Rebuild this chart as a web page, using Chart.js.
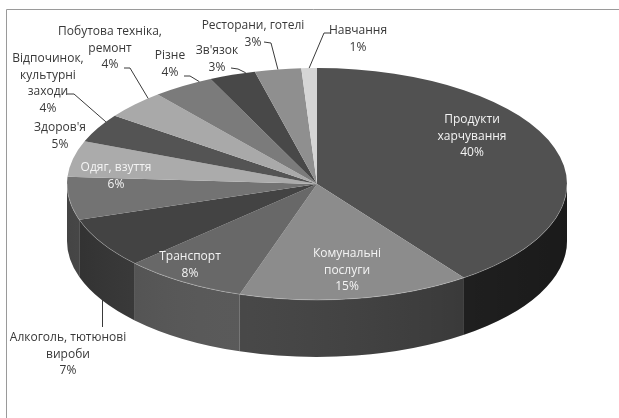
<!DOCTYPE html>
<html>
<head>
<meta charset="utf-8">
<script src="https://cdn.jsdelivr.net/npm/chart.js@4"></script>
<style>
  html, body { margin: 0; padding: 0; background: #fff; overflow: hidden; }
  #wrap { position: relative; width: 619px; height: 418px; }
</style>
</head>
<body>
<div id="wrap"><canvas id="spendChart"></canvas></div>
<script>
// categories, clockwise from 12 o'clock
const categories = [
    ["Продукти", "харчування"],
    ["Комунальні", "послуги"],
    ["Транспорт"],
    ["Алкоголь, тютюнові", "вироби"],
    ["Одяг, взуття"],
    ["Здоров'я"],
    ["Відпочинок,", "культурні", "заходи"],
    ["Побутова техніка,", "ремонт"],
    ["Різне"],
    ["Зв'язок"],
    ["Ресторани, готелі"],
    ["Навчання"]
];
const shares = [40, 15, 8, 7, 6, 5, 4, 4, 4, 3, 3, 1];

const topColors = ["#515151", "#8c8c8c", "#686868", "#434343", "#737373", "#ababab",
                   "#545454", "#a9a9a9", "#7b7b7b", "#484848", "#8f8f8f", "#d5d5d5"];
const sideColors = ["#232323", "#414141", "#535353", "#363636", "#4c4c4c", "#6a6a6a",
                    "#333333", "#6a6a6a", "#4a4a4a", "#2c2c2c", "#555555", "#888888"];

// ellipse of the pie top (screen px) and height of the side
const pie = { cx: 317, cy: 184, rx: 250, ry: 116, depth: 57 };

// where each label sits (centre of first line) and how its leader runs
// "at" = where along the slice the leader touches the rim (0 start .. 1 end)
const labelLayout = [
    { x: 472, y: 120, light: true },
    { x: 347, y: 254, light: true },
    { x: 190, y: 257, light: true },
    { x: 68, y: 338, down: true, at: 0.5 },
    { x: 116, y: 168, light: true },
    { x: 60, y: 128 },
    { x: 48, y: 59, leader: [67, 94, 74, 94], at: 0.75 },
    { x: 110, y: 32, leader: [124, 68, 130, 68], at: 0.8 },
    { x: 170, y: 56, leader: [184, 76, 190, 76], at: 0.8 },
    { x: 217, y: 51, leader: [231, 68, 238, 69], at: 0.8 },
    { x: 253, y: 26, leader: [264, 42, 271, 43], at: 0.5 },
    { x: 358, y: 31, leader: [331, 33, 324, 33], at: 0.5 }
];
const lineHeight = 16.5;

function rimPoint(angle, drop) {
    return [pie.cx + pie.rx * Math.cos(angle), pie.cy + pie.ry * Math.sin(angle) + (drop || 0)];
}

const pie3d = {
    id: "pie3d",
    beforeDraw(chart) {
        const ctx = chart.ctx;
        ctx.save();
        ctx.strokeStyle = "#9a9a9a";
        ctx.lineWidth = 1;
        ctx.beginPath();
        ctx.moveTo(6.5, 430);
        ctx.lineTo(6.5, 9.5);
        ctx.lineTo(630, 9.5);
        ctx.stroke();
        ctx.restore();
    },
    beforeDatasetsDraw(chart) {
        const ctx = chart.ctx;
        const arcs = chart.getDatasetMeta(0).data;

        // side wall: only the front half of the rim shows
        arcs.forEach((arc, i) => {
            const a = Math.max(arc.startAngle, 0);
            const b = Math.min(arc.endAngle, Math.PI);
            if (a >= b) return;
            ctx.beginPath();
            ctx.ellipse(pie.cx, pie.cy, pie.rx, pie.ry, 0, a, b);
            ctx.ellipse(pie.cx, pie.cy + pie.depth, pie.rx, pie.ry, 0, b, a, true);
            ctx.closePath();
            ctx.fillStyle = sideColors[i];
            ctx.fill();
        });

        // soft shading over the wall
        ctx.save();
        ctx.beginPath();
        ctx.ellipse(pie.cx, pie.cy, pie.rx, pie.ry, 0, 0, Math.PI);
        ctx.ellipse(pie.cx, pie.cy + pie.depth, pie.rx, pie.ry, 0, Math.PI, 0, true);
        ctx.closePath();
        const g = ctx.createLinearGradient(pie.cx - pie.rx, 0, pie.cx + pie.rx, 0);
        g.addColorStop(0, "rgba(0,0,0,0.10)");
        g.addColorStop(0.35, "rgba(255,255,255,0.04)");
        g.addColorStop(0.7, "rgba(0,0,0,0.05)");
        g.addColorStop(1, "rgba(0,0,0,0.25)");
        ctx.fillStyle = g;
        ctx.fill();
        ctx.restore();

        // squash the round pie into the tilted ellipse
        const a0 = arcs[0];
        ctx.save();
        ctx.translate(pie.cx, pie.cy);
        ctx.scale(pie.rx / a0.outerRadius, pie.ry / a0.outerRadius);
        ctx.translate(-a0.x, -a0.y);
    },
    afterDatasetsDraw(chart) {
        const ctx = chart.ctx;
        ctx.restore();
        const arcs = chart.getDatasetMeta(0).data;

        // faint highlight along the front rim
        ctx.save();
        ctx.strokeStyle = "rgba(255,255,255,0.25)";
        ctx.lineWidth = 1;
        ctx.beginPath();
        ctx.ellipse(pie.cx, pie.cy, pie.rx, pie.ry, 0, 0, Math.PI);
        ctx.stroke();
        ctx.restore();

        ctx.save();
        ctx.font = "12px 'Open Sans'";
        ctx.textAlign = "center";
        ctx.textBaseline = "middle";
        arcs.forEach((arc, i) => {
            const lay = labelLayout[i];
            const lines = categories[i].concat([shares[i] + "%"]);
            const ang = arc.startAngle + (arc.endAngle - arc.startAngle) * (lay.at || 0.5);

            ctx.strokeStyle = "#3a3a3a";
            ctx.lineWidth = 1;
            if (lay.leader) {
                const end = rimPoint(ang);
                ctx.beginPath();
                ctx.moveTo(lay.leader[0], lay.leader[1]);
                ctx.lineTo(lay.leader[2], lay.leader[3]);
                ctx.lineTo(end[0], end[1]);
                ctx.stroke();
            } else if (lay.down) {
                const end = rimPoint(ang, pie.depth);
                ctx.beginPath();
                ctx.moveTo(Math.round(end[0]) + 0.5, end[1]);
                ctx.lineTo(Math.round(end[0]) + 0.5, lay.y - 11);
                ctx.stroke();
            }

            ctx.fillStyle = lay.light ? "#f4f4f4" : "#383838";
            lines.forEach((t, k) => ctx.fillText(t, lay.x, lay.y + k * lineHeight));
        });
        ctx.restore();
    }
};

const ctx = document.getElementById("spendChart").getContext("2d");
new Chart(ctx, {
    type: "pie",
    data: {
        labels: categories,
        datasets: [{
            data: shares,
            backgroundColor: topColors,
            borderWidth: 0,
            clip: false
        }]
    },
    options: {
        responsive: true,
        maintainAspectRatio: false,
        animation: false,
        events: [],
        plugins: {
            legend: { display: false },
            tooltip: { enabled: false }
        }
    },
    plugins: [pie3d]
});
</script>
</body>
</html>
